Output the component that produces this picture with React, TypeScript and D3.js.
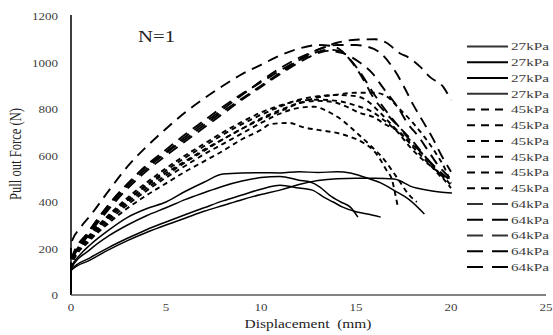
import React from "react";
import * as d3 from "d3";

const W = 553;
const H = 335;

const xTicks = [0, 5, 10, 15, 20, 25];
const yTicks = [0, 200, 400, 600, 800, 1000, 1200];

type Pt = [number, number];

// 27 kPa (solid)
const s27a: Pt[] = [[0,0],[0,115],[0.5,175],[1,215],[2,280],[3,335],[4,372],[5,400],[6,445],[7,485],[8,520],[9,525],[10,526],[11,525],[12,530],[13,527],[14,530],[14.7,525],[15.5,505],[16.3,482],[17,450],[17.8,410],[18.6,348]];
const s27b: Pt[] = [[0,0],[0,112],[1,195],[2,255],[3,302],[4,342],[5,375],[6,410],[7,440],[8,468],[9,490],[10,505],[11,510],[12,494],[12.6,486],[13.1,464],[13.6,430],[14.2,400],[14.7,378],[15.1,335]];
const s27c: Pt[] = [[0,0],[0,108],[1,160],[2,205],[3,245],[4,282],[5,314],[6,345],[7,375],[8,405],[9,430],[10,455],[11,472],[12,460],[12.7,451],[13.3,421],[13.8,400],[14.3,378],[15.05,357],[15.6,348],[16.3,335]];
const s27d: Pt[] = [[0,0],[0,105],[1,150],[2,195],[3,235],[4,270],[5,301],[6,330],[7,360],[8,385],[9,410],[10,432],[11,451],[12,475],[13,492],[14,500],[15,502],[16,502],[17,499],[18,464],[18.7,452],[19.4,443],[20.05,439]];

// 45 kPa (short dash)
const s45a: Pt[] = [[0,0],[0,140],[1,255],[2,340],[3,410],[4,470],[5,525],[6,575],[7,625],[8,670],[9,715],[10,755],[11,790],[12,825],[13,850],[14,862],[15,870],[16,870],[16.6,855],[17.3,800],[18,740],[18.6,680],[19.2,610],[19.7,540],[20,480]];
const s45b: Pt[] = [[0,0],[0,135],[1,250],[2,335],[3,410],[4,475],[5,535],[6,590],[7,640],[8,690],[9,735],[10,775],[11,810],[12,840],[13,855],[14,860],[15,855],[15.5,840],[16.2,790],[16.9,730],[17.5,680],[18.2,630],[18.8,580],[19.4,520],[20,460]];
const s45c: Pt[] = [[0,0],[0,130],[1,245],[2,330],[3,400],[4,460],[5,515],[6,570],[7,620],[8,670],[9,715],[10,760],[11,795],[12,825],[13,835],[13.8,830],[14.5,810],[15.2,783],[15.9,766],[16.6,731],[17.3,701],[18,636],[18.5,593],[19,550],[19.5,505]];
const s45d: Pt[] = [[0,0],[0,130],[1,240],[2,320],[3,390],[4,450],[5,505],[6,555],[7,605],[8,650],[9,695],[10,740],[11,780],[12,805],[12.8,810],[13.5,790],[14.3,750],[15,700],[15.8,640],[16.5,580],[17.2,500],[17.8,430],[18.2,400]];
const s45e: Pt[] = [[0,0],[0,125],[1,235],[2,310],[3,375],[4,430],[5,480],[6,530],[7,575],[8,620],[9,670],[10,710],[10.5,735],[11.5,740],[12.2,722],[13,710],[14,697],[14.7,680],[15.4,654],[15.9,623],[16.3,580],[16.6,537],[16.9,494],[17.05,440],[17.2,380]];
const s45f: Pt[] = [[0,0],[0,140],[1,260],[2,345],[3,420],[4,485],[5,545],[6,600],[7,650],[8,700],[9,745],[10,785],[11,815],[12,835],[13,840],[14,835],[15,815],[15.8,790],[16.5,750],[17.2,700],[17.8,640],[18.4,590],[19,550],[19.6,510],[20,470]];

// 64 kPa (long dash)
const s64a: Pt[] = [[0,0],[0,220],[0.5,290],[1,340],[2,450],[3,555],[4,640],[5,715],[6,785],[7,845],[8,900],[9,950],[10,990],[11,1030],[12,1060],[13,1075],[13.8,1070],[14.5,1030],[15.2,960],[15.9,870],[16.6,790],[17.3,720],[18,650],[18.7,590],[19.3,540],[20,490]];
const s64b: Pt[] = [[0,0],[0,140],[0.5,220],[1,280],[2,390],[3,480],[4,555],[5,615],[6,680],[7,740],[8,800],[9,860],[10,920],[11,975],[12,1020],[13,1055],[14,1085],[15,1098],[16,1100],[16.6,1085],[17.3,1040],[17.8,1020],[18.4,980],[18.9,937],[19.6,894],[20,838]];
const s64c: Pt[] = [[0,0],[0,135],[1,270],[2,380],[3,470],[4,545],[5,610],[6,670],[7,730],[8,790],[9,845],[10,900],[11,955],[12,1010],[13,1055],[14,1075],[15,1075],[15.5,1070],[16.3,1040],[17,970],[17.5,900],[18,820],[18.5,750],[19,680],[19.5,600],[20,530]];
const s64d: Pt[] = [[0,0],[0,130],[1,265],[2,370],[3,460],[4,535],[5,600],[6,660],[7,720],[8,780],[9,840],[10,895],[11,950],[12,1000],[13,1040],[13.5,1050],[14.3,1040],[15.2,1000],[15.9,950],[16.4,894],[16.8,851],[17.2,808],[17.7,740],[18.3,680],[18.8,620],[19.3,560],[20,500]];
const s64e: Pt[] = [[0,0],[0,150],[1,280],[2,390],[3,480],[4,560],[5,625],[6,690],[7,750],[8,810],[9,865],[10,915],[11,965],[12,1010],[12.8,1040],[13.5,1055],[14.2,1050],[14.7,1010],[15.4,925],[15.9,851],[16.6,780],[17.3,720],[18,660],[18.6,600],[19.2,540],[19.8,490]];

const seriesLabels = ["27kPa","27kPa","27kPa","27kPa","45kPa","45kPa","45kPa","45kPa","45kPa","45kPa","64kPa","64kPa","64kPa","64kPa","64kPa"];
const seriesData = [s27a, s27b, s27c, s27d, s45a, s45b, s45c, s45d, s45e, s45f, s64a, s64b, s64c, s64d, s64e];

const styleFor = (label: string) => {
  if (label === "27kPa") return { dash: "none", legendDash: "none", width: 1.5 };
  if (label === "45kPa") return { dash: "5,4", legendDash: "8,6", width: 1.9 };
  return { dash: "11,7", legendDash: "16,9", width: 1.9 };
};

const FONT = "Liberation Serif";

export default function App() {
  const x = d3.scaleLinear().domain([0, 25]).range([71, 546]);
  const y = d3.scaleLinear().domain([0, 1200]).range([295, 16]);
  const line = d3
    .line<Pt>()
    .x((d) => x(d[0]))
    .y((d) => y(d[1]))
    .curve(d3.curveMonotoneX);

  const legendY0 = 46.5;
  const legendStep = 15.75;
  const tStyle = { fontFamily: FONT };

  return (
    <svg
      width={W}
      height={H}
      style={{ position: "absolute", left: 0, top: 0, background: "#fff", fontFamily: FONT }}
    >
      <rect x={0} y={0} width={W} height={H} fill="#fff" />
      {seriesData.map((d, i) => {
        const st = styleFor(seriesLabels[i]);
        return (
          <path
            key={i}
            d={line(d) || ""}
            fill="none"
            stroke="#000"
            strokeWidth={st.width}
            strokeDasharray={st.dash}
          />
        );
      })}
      <line x1={x(0)} x2={x(0)} y1={y(1200) - 1} y2={y(0)} stroke="#000" strokeWidth={1.5} />
      <line x1={x(0)} x2={x(25)} y1={y(0)} y2={y(0)} stroke="#595959" strokeWidth={1.5} />
      {yTicks.map((t) => (
        <text
          key={t}
          x={58}
          y={y(t) + 4}
          fontSize={11}
          textAnchor="end"
          fill="#404040"
          style={tStyle}
          textLength={String(t).length * 6.5}
          lengthAdjust="spacingAndGlyphs"
        >
          {t}
        </text>
      ))}
      {xTicks.map((t) => (
        <text
          key={t}
          x={x(t)}
          y={311}
          fontSize={11}
          textAnchor="middle"
          fill="#404040"
          style={tStyle}
          textLength={String(t).length * 6.5}
          lengthAdjust="spacingAndGlyphs"
        >
          {t}
        </text>
      ))}
      <text
        x={308}
        y={328}
        fontSize={13.5}
        textAnchor="middle"
        fill="#222"
        style={{ ...tStyle, whiteSpace: "pre" }}
        textLength={127}
        lengthAdjust="spacingAndGlyphs"
      >
        {"Displacement  (mm)"}
      </text>
      <text
        transform={`translate(21,154) scale(1.25,1) rotate(-90)`}
        fontSize={12.6}
        textAnchor="middle"
        fill="#222"
        style={tStyle}
      >
        Pull out Force (N)
      </text>
      <text
        x={138}
        y={42}
        fontSize={16}
        fill="#222"
        style={tStyle}
        textLength={37}
        lengthAdjust="spacingAndGlyphs"
      >
        N=1
      </text>
      {seriesLabels.map((lab, i) => {
        const st = styleFor(lab);
        const yy = legendY0 + i * legendStep;
        return (
          <g key={i}>
            <line
              x1={467}
              x2={508}
              y1={yy}
              y2={yy}
              stroke={i === 0 || i === 3 || i === 10 || i === 12 ? "#333" : "#000"}
              strokeWidth={1.8}
              strokeDasharray={st.legendDash}
            />
            <text
              x={511}
              y={yy + 3.8}
              fontSize={11}
              fill="#404040"
              style={tStyle}
              textLength={38}
              lengthAdjust="spacingAndGlyphs"
            >
              {lab}
            </text>
          </g>
        );
      })}
    </svg>
  );
}
